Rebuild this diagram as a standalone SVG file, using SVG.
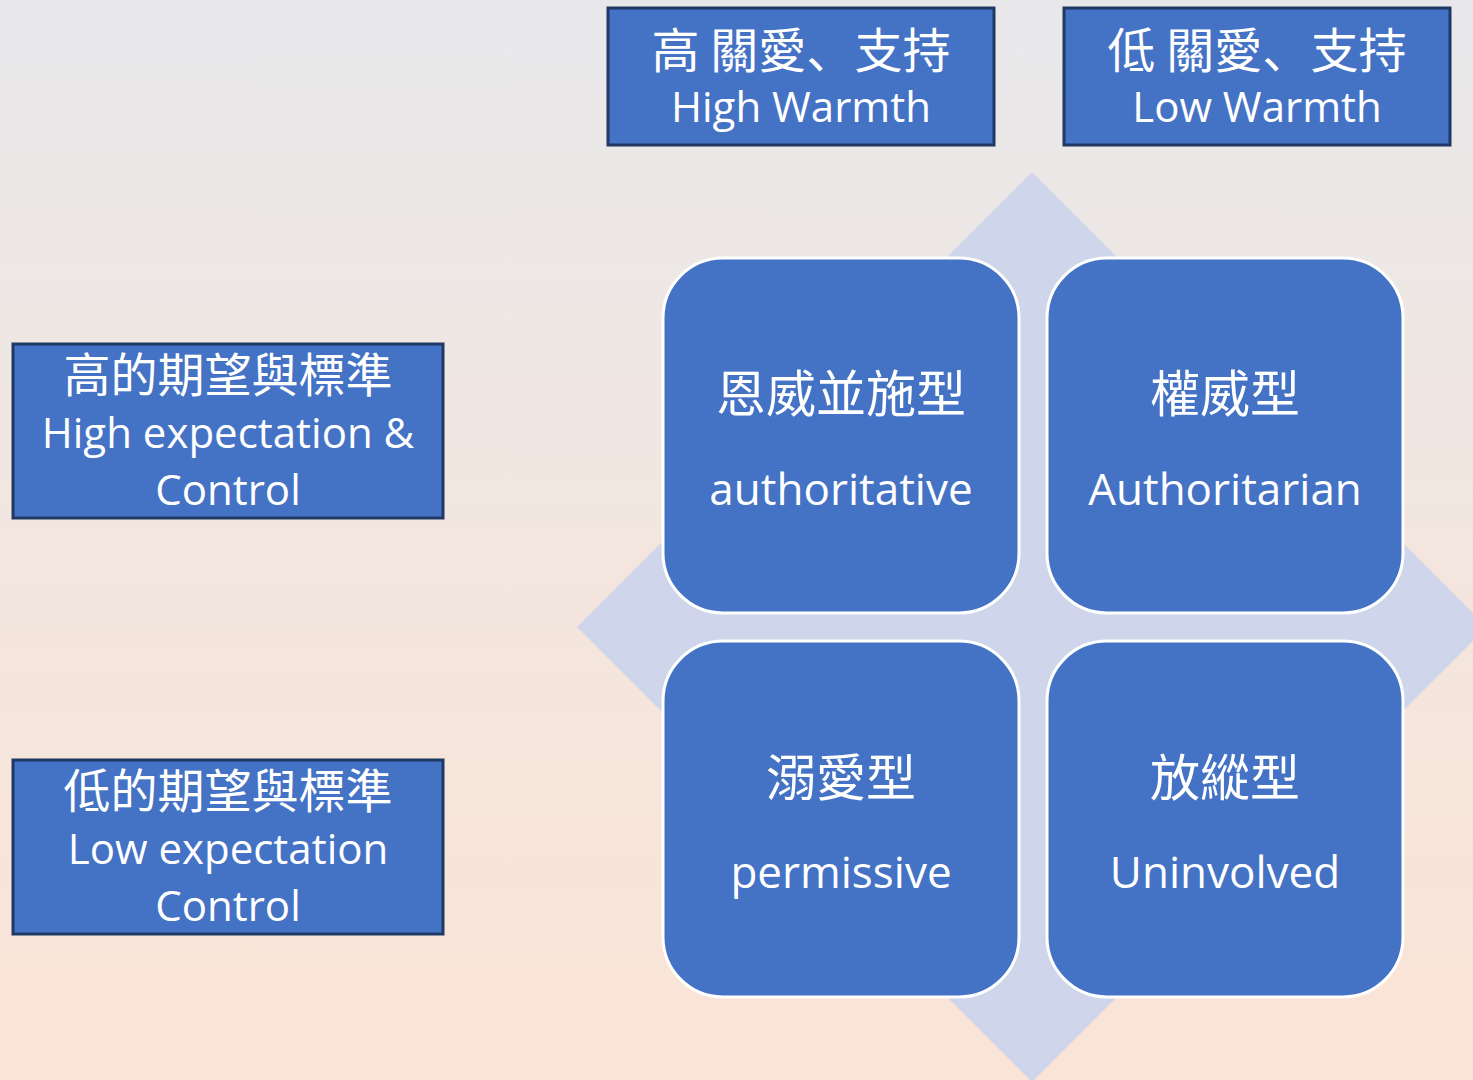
<svg xmlns="http://www.w3.org/2000/svg" width="1473" height="1080" viewBox="0 0 1473 1080">
<defs>
<linearGradient id="bg" x1="0" y1="0" x2="0" y2="1">
<stop offset="0" stop-color="#E8E8EB"/>
<stop offset="0.5" stop-color="#F2E6DF"/>
<stop offset="1" stop-color="#FBE4D6"/>
</linearGradient>
</defs>
<style>
.hdr{fill:#4472C4;stroke:#1F3864;stroke-width:3}
.quad{fill:#4472C4;stroke:#FFFFFF;stroke-width:3}
.cjk{font-family:"Noto Sans CJK TC","Noto Sans CJK SC",sans-serif;fill:#FFFFFF;text-anchor:middle}
.comma{font-family:"Noto Sans CJK JP","Noto Sans CJK SC",sans-serif}
.lat{font-family:"Open Sans","Liberation Sans",sans-serif;fill:#FFFFFF;text-anchor:middle}
</style>
<rect x="0" y="0" width="1473" height="1080" fill="url(#bg)"/>
<polygon points="1032,172 1487,627 1032,1082 577,627" fill="#CFD5EA"/>
<g id="high-warmth">
<rect class="hdr" x="608" y="8" width="386" height="137"/>
<text class="cjk" x="801" y="68" font-size="48">高 關愛<tspan class="comma">、</tspan>支持</text>
<text class="lat" x="801" y="122" font-size="42">High Warmth</text>
</g>
<g id="low-warmth">
<rect class="hdr" x="1064" y="8" width="386" height="137"/>
<text class="cjk" x="1257" y="68" font-size="48">低 關愛<tspan class="comma">、</tspan>支持</text>
<text class="lat" x="1257" y="122" font-size="42">Low Warmth</text>
</g>
<g id="high-expectation">
<rect class="hdr" x="13" y="344" width="430" height="174"/>
<text class="cjk" x="228" y="392" font-size="47">高的期望與標準</text>
<text class="lat" x="228" y="448" font-size="42">High expectation &amp;</text>
<text class="lat" x="228" y="505" font-size="42">Control</text>
</g>
<g id="low-expectation">
<rect class="hdr" x="13" y="760" width="430" height="174"/>
<text class="cjk" x="228" y="808" font-size="47">低的期望與標準</text>
<text class="lat" x="228" y="864" font-size="42">Low expectation</text>
<text class="lat" x="228" y="921" font-size="42">Control</text>
</g>
<g id="authoritative">
<rect class="quad" x="663" y="258" width="356" height="355" rx="60" ry="60"/>
<text class="cjk" x="841" y="412" font-size="50">恩威並施型</text>
<text class="lat" x="841" y="505" font-size="44">authoritative</text>
</g>
<g id="authoritarian">
<rect class="quad" x="1047" y="258" width="356" height="355" rx="60" ry="60"/>
<text class="cjk" x="1225" y="412" font-size="50">權威型</text>
<text class="lat" x="1225" y="505" font-size="44">Authoritarian</text>
</g>
<g id="permissive">
<rect class="quad" x="663" y="641" width="356" height="356" rx="60" ry="60"/>
<text class="cjk" x="841" y="796" font-size="50">溺愛型</text>
<text class="lat" x="841" y="888" font-size="44">permissive</text>
</g>
<g id="uninvolved">
<rect class="quad" x="1047" y="641" width="356" height="356" rx="60" ry="60"/>
<text class="cjk" x="1225" y="796" font-size="50">放縱型</text>
<text class="lat" x="1225" y="888" font-size="44">Uninvolved</text>
</g>
<g id="connectors"></g>
</svg>
